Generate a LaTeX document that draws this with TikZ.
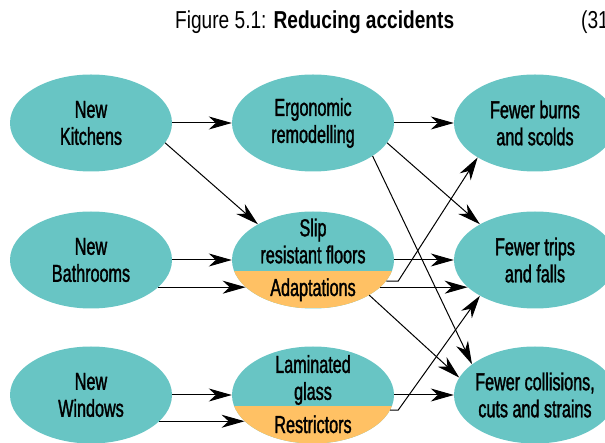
\documentclass[tikz,border=0pt]{standalone}
\usepackage{fontspec}
\usepackage{tikz}
\usetikzlibrary{shapes.geometric,arrows.meta}
\newfontfamily\boxfont[FakeStretch=0.66,FakeBold=1.4]{Liberation Sans}
\newfontfamily\capfont[FakeStretch=0.78]{Liberation Sans}
\definecolor{tealfill}{RGB}{104,197,196}
\definecolor{amberfill}{RGB}{255,193,100}

\begin{document}
\begin{tikzpicture}
	[x=1pt,y=1pt,
	oval/.style={ellipse,minimum width=162pt,minimum height=97pt,inner xsep=-12pt,inner ysep=0pt,fill=tealfill,font=\boxfont\fontsize{24.5}{27}\selectfont,align=center},
	halved/.style={oval,path picture={\fill[amberfill] ([yshift=-11pt]path picture bounding box.west) rectangle (path picture bounding box.south east);}},
	txt/.style={inner sep=0pt,font=\boxfont\fontsize{24.5}{27}\selectfont,align=center},
	arr/.style={-{Stealth[length=23pt,width=13pt,inset=7pt]},line width=1pt}]
	\useasboundingbox (0,0) rectangle (605,-443);
	\node[anchor=base west,inner sep=0pt,font=\capfont\fontsize{24.5}{27}\selectfont] (title) at (175,-29) {Figure 5.1: \textbf{Reducing accidents}};
	\node[anchor=base west,inner sep=0pt,font=\capfont\fontsize{24.5}{27}\selectfont] (page) at (581,-29) {(31};
	% causes
	\node[oval] (kitch) at (91,-123) {New\\Kitchens};
	\node[oval] (bath) at (91,-260) {New\\Bathrooms};
	\node[oval] (win) at (91,-395) {New\\Windows};
	% measures
	\node[oval] (ergo) at (313,-123) {Ergonomic\\remodelling};
	\node[halved] (slip) at (313,-260) {};
	\node[txt] (sliptop) at (313,-241) {Slip\\resistant floors};
	\node[txt,anchor=base] (adapt) at (313,-296) {Adaptations};
	\node[halved] (lam) at (313,-395) {};
	\node[txt] (lamtop) at (313,-380) {Laminated\\glass};
	\node[txt,anchor=base] (restr) at (313,-433) {Restrictors};
	% outcomes
	\node[oval] (burns) at (535,-123) {Fewer burns\\and scolds};
	\node[oval] (trips) at (535,-260) {Fewer trips\\and falls};
	\node[oval] (coll) at (535,-395) {Fewer collisions,\\cuts and strains};
	\path (kitch) edge[arr] (ergo);
	\path (kitch.-15) edge[arr] (slip.147);
	\path (bath) edge[arr] (slip);
	\path (bath.-22) edge[arr] (slip.202);
	\path (win) edge[arr] (lam);
	\path (win.-21) edge[arr] (lam.201);
	\path (ergo) edge[arr] (burns);
	\path (ergo.-15) edge[arr] (trips.147);
	\path (ergo.-29) edge[arr] (coll.154);
	\path (slip) edge[arr] (trips);
	\path (slip.-22) edge[arr] (trips.202);
	\draw[arr] (slip.-16) -- ++(12,0) -- (burns.211);
	\path (slip.-32) edge[arr] (coll.167);
	\path (lam) edge[arr] (coll);
	\draw[arr] (lam.-11) -- ++(8,0) -- (trips.213);
\end{tikzpicture}
\end{document}
